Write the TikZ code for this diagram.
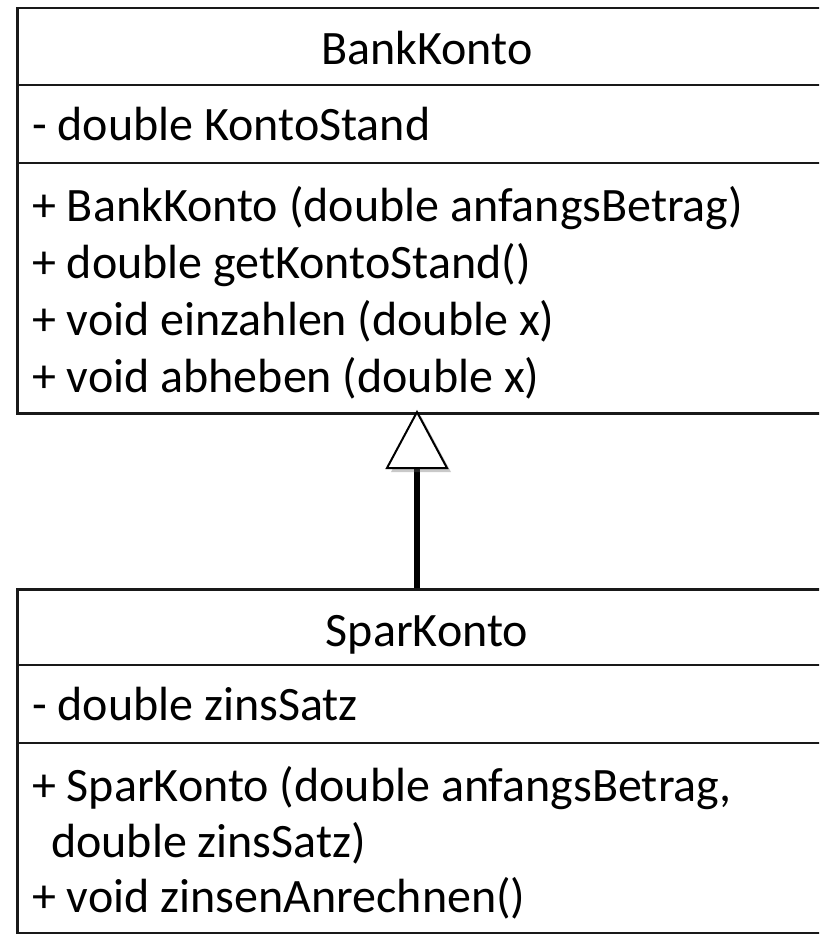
\documentclass[tikz,border=0pt]{standalone}
\usepackage{fontspec}
\setmainfont{Carlito}
\usetikzlibrary{calc,shadows}
\begin{document}
\begin{tikzpicture}[x=1pt,y=-1pt,
  classbox/.style={draw=black!90,line width=2.5pt,rectangle,inner sep=0pt,anchor=north west},
  sepline/.style={draw=black!90,line width=2.5pt},
  txt/.style={inner sep=0pt,anchor=base west,font=\fontsize{48}{58}\selectfont},
  ttl/.style={inner sep=0pt,anchor=base,font=\fontsize{48}{58}\selectfont},
  gen/.style={line width=6pt,draw=black},
  gentri/.style={draw=black,line width=2pt,fill=white,line join=miter,
     drop shadow={shadow xshift=4pt,shadow yshift=-4pt,opacity=0.35,fill=black!60}}
]
\clip (0,0) rectangle (819,934);
\fill[white] (0,0) rectangle (819,934);
% BankKonto
\node[classbox,minimum width=827pt,minimum height=405pt] (bank) at (16,7) {};
\draw[sepline] (bank.west |- 0,85) -- (bank.east |- 0,85);
\draw[sepline] (bank.west |- 0,163) -- (bank.east |- 0,163);
\node[ttl] (bankname) at (427,65) {BankKonto};
\node[txt] (bankattr) at (32,140) {- double KontoStand};
\node[txt] (bankm1) at (32,221) {+ BankKonto (double anfangsBetrag)};
\node[txt] (bankm2) at (32,278) {+ double getKontoStand()};
\node[txt] (bankm3) at (32,335) {+ void einzahlen (double x)};
\node[txt] (bankm4) at (32,392) {+ void abheben (double x)};
% SparKonto
\node[classbox,minimum width=827pt,minimum height=344pt] (spar) at (16,588) {};
\draw[sepline] (spar.west |- 0,665) -- (spar.east |- 0,665);
\draw[sepline] (spar.west |- 0,743) -- (spar.east |- 0,743);
\node[ttl] (sparname) at (427,646) {SparKonto};
\node[txt] (sparattr) at (32,720) {- double zinsSatz};
\node[txt] (sparm1) at (32,801) {+ SparKonto (double anfangsBetrag,};
\node[txt] (sparm1b) at (51,857) {double zinsSatz)};
\node[txt] (sparm2) at (32,912) {+ void zinsenAnrechnen()};
% generalization
\coordinate (apex) at (417,412);
\coordinate (tribase) at ($(apex)+(0,56)$);
\coordinate (sparTop) at (417,588);
\draw[gen] (sparTop) -- (tribase);
\path[gentri] (apex) -- ++(-30,56) -- ++(60,0) -- cycle;
\end{tikzpicture}
\end{document}
